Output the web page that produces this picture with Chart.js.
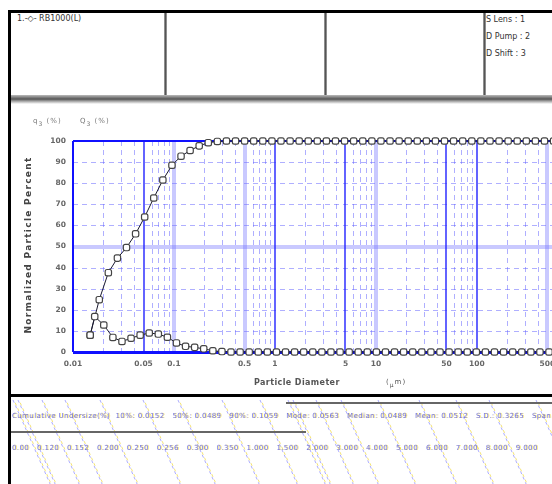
<!DOCTYPE html>
<html>
<head>
<meta charset="utf-8">
<script src="https://cdn.jsdelivr.net/npm/chart.js@4"></script>
<style>
  html, body { margin: 0; padding: 0; background: #fff; }
  body { width: 552px; height: 484px; overflow: hidden; position: relative; font-family: "DejaVu Sans", sans-serif; }
  .r { position: absolute; }
  .t { position: absolute; white-space: nowrap; }
  #plot { position: absolute; left: 10px; top: 100px; width: 573px; height: 293px; }
  #diag { position: absolute; left: 0; top: 398px; }
  .sub { position: relative; top: 3px; font-size: 6px; }
  .row { white-space: pre; color: rgb(112,112,228); font-size: 7px; letter-spacing: 0.4px; text-shadow: 1px 0 rgba(235,210,0,0.55); }
</style>
</head>
<body>
<div id="plot"><canvas id="chart"></canvas></div>
<canvas id="diag" width="552" height="86"></canvas>

<!-- frame and panel rules -->
<div class="r" style="left:8px;top:10px;width:560px;height:3px;background:#000"></div>
<div class="r" style="left:8px;top:10px;width:3px;height:480px;background:#000"></div>
<div class="r" style="left:164px;top:13px;width:3px;height:83px;background:linear-gradient(to right,#aaa,#555,#aaa)"></div>
<div class="r" style="left:324px;top:13px;width:3px;height:83px;background:linear-gradient(to right,#aaa,#555,#aaa)"></div>
<div class="r" style="left:483px;top:13px;width:3px;height:83px;background:linear-gradient(to right,#aaa,#555,#aaa)"></div>
<div class="r" style="left:11px;top:95px;width:560px;height:9px;background:linear-gradient(#bbb,#555 45%,#999 65%,#fff)"></div>
<div class="r" style="left:8px;top:394px;width:560px;height:3px;background:#000"></div>
<div class="r" style="left:286px;top:402px;width:280px;height:2px;background:#666"></div>
<div class="r" style="left:11px;top:431px;width:295px;height:2px;background:#666"></div>

<!-- header cells -->
<div class="t" style="left:17px;top:14px;font-size:8px;color:#333">1.-◇- RB1000(L)</div>
<div class="t" style="left:486px;top:15px;font-size:8px;color:#333">S Lens : 1</div>
<div class="t" style="left:486px;top:32px;font-size:8px;color:#333">D Pump : 2</div>
<div class="t" style="left:486px;top:49px;font-size:8px;color:#333">D Shift : 3</div>

<!-- axis captions -->
<div class="t" style="left:33px;top:117px;font-size:7px;color:#777;letter-spacing:1px">q<span class="sub">3</span> (%)</div>
<div class="t" style="left:80px;top:117px;font-size:7px;color:#777;letter-spacing:1px">Q<span class="sub">3</span> (%)</div>
<div class="t" style="left:28px;top:245px;font-size:9px;font-weight:bold;color:#444;letter-spacing:1.3px;transform:translate(-50%,-50%) rotate(-90deg)">Normalized Particle Percent</div>
<div class="t" style="left:254px;top:378px;font-size:8px;font-weight:bold;color:#555;letter-spacing:0.4px">Particle Diameter</div>
<div class="t" style="left:386px;top:378px;font-size:7px;color:#555;letter-spacing:1px">(<span class="sub">μ</span>m)</div>

<!-- result rows -->
<div class="t row" style="left:12px;top:412px">Cumulative Undersize(%)  10%: 0.0152   50%: 0.0489   90%: 0.1059   Mode: 0.0563   Median: 0.0489   Mean: 0.0512   S.D.: 0.3265   Span: 1.857</div>
<div class="t row" style="left:12px;top:444px">0.00   0.120   0.152   0.200   0.250   0.256   0.300   0.350   1.000   1.500   2.000   3.000   4.000   5.000   6.000   7.000   8.000   9.000</div>

<script>
// Particle size distribution: diameters in micrometres
const diameters = [0.01479, 0.01820, 0.02239, 0.02754, 0.03388, 0.04169, 0.05129, 0.06310, 0.07762, 0.09550,
  0.1175, 0.1445, 0.1778, 0.2188, 0.2692, 0.3311, 0.4074, 0.5012, 0.6166, 0.7586, 0.9333,
  1.148, 1.413, 1.738, 2.138, 2.630, 3.236, 3.981, 4.898, 6.026, 7.413, 9.120,
  11.22, 13.80, 16.98, 20.89, 25.70, 31.62, 38.90, 47.86, 58.88, 72.44, 89.13,
  109.6, 134.9, 166.0, 204.2, 251.2, 309.0, 380.2, 467.7, 575.4, 707.9];
// Cumulative undersize Q3 (%)
const cumulative = [8.0, 24.8, 37.6, 44.5, 49.5, 56.0, 64.0, 73.0, 81.5, 88.5,
  92.8, 95.5, 97.7, 99.2, 99.8, 100, 100, 100, 100, 100, 100,
  100, 100, 100, 100, 100, 100, 100, 100, 100, 100, 100,
  100, 100, 100, 100, 100, 100, 100, 100, 100, 100, 100,
  100, 100, 100, 100, 100, 100, 100, 100, 100, 100];
// Frequency q3 (%) at class centres
const freqDiameters = [0.01479, 0.01641, 0.02018, 0.02483, 0.03055, 0.03758, 0.04624, 0.05689, 0.06998, 0.08610,
  0.1059, 0.1303, 0.1603, 0.1972, 0.2427, 0.2985, 0.3673, 0.4519, 0.5559, 0.6839, 0.8414,
  1.035, 1.274, 1.567, 1.928, 2.371, 2.917, 3.589, 4.416, 5.433, 6.683, 8.222,
  10.12, 12.45, 15.31, 18.84, 23.17, 28.51, 35.08, 43.15, 53.09, 65.31, 80.35,
  98.86, 121.6, 149.6, 184.1, 226.5, 278.6, 342.8, 421.7, 518.8, 638.3];
const frequency = [8.0, 16.8, 12.8, 6.9, 5.0, 6.5, 8.0, 9.0, 8.5, 7.0,
  4.3, 2.7, 2.2, 1.5, 0.6, 0.2, 0, 0, 0, 0, 0,
  0, 0, 0, 0, 0, 0, 0, 0, 0, 0, 0,
  0, 0, 0, 0, 0, 0, 0, 0, 0, 0, 0,
  0, 0, 0, 0, 0, 0, 0, 0, 0, 0];

const xTickValues = [0.01, 0.05, 0.1, 0.5, 1, 5, 10, 50, 100, 500];
const xTickLabels = ['0.01', '0.05', '0.1', '0.5', '1', '5', '10', '50', '100', '500'];
const yTickValues = [0, 10, 20, 30, 40, 50, 60, 70, 80, 90, 100];

// grid line groups on the log axis
const xSolidLines = [0.05, 1, 5, 50, 100];
const xBandLines = [0.1, 0.5, 10, 500];
const yDashedLines = [10, 20, 30, 40, 60, 70, 80, 90];
const yBandLines = [50];

const toPoints = (xs, ys) => xs.map((x, i) => ({ x, y: ys[i] }));

const paperGrid = {
  id: 'paperGrid',
  beforeDatasetsDraw(chart) {
    const { ctx, chartArea: a, scales } = chart;
    const xs = scales.x, ys = scales.y;
    const snap = (p, w) => (Math.round(w) % 2 === 1 ? Math.round(p) + 0.5 : Math.round(p));
    const vline = (v, color, w, dash) => {
      const px = snap(xs.getPixelForValue(v), w);
      if (px < a.left - 1 || px > a.right + 1) return;
      ctx.beginPath(); ctx.setLineDash(dash); ctx.strokeStyle = color; ctx.lineWidth = w;
      ctx.moveTo(px, a.top); ctx.lineTo(px, a.bottom); ctx.stroke();
    };
    const hline = (v, color, w, dash) => {
      const py = snap(ys.getPixelForValue(v), w);
      ctx.beginPath(); ctx.setLineDash(dash); ctx.strokeStyle = color; ctx.lineWidth = w;
      ctx.moveTo(a.left, py); ctx.lineTo(a.right, py); ctx.stroke();
    };
    ctx.save();
    const minor = 'rgba(95,95,255,0.5)';
    for (let e = -2; e < 3; e++) {
      for (const m of [2, 3, 4, 6, 7, 8, 9]) vline(m * Math.pow(10, e), minor, 1, [5, 4]);
    }
    yDashedLines.forEach(v => hline(v, minor, 1, [5, 4]));
    const band = 'rgba(120,120,255,0.4)';
    xBandLines.forEach(v => vline(v, band, 4, []));
    yBandLines.forEach(v => hline(v, band, 4, []));
    xSolidLines.forEach(v => vline(v, 'rgba(40,40,255,0.9)', 1.6, []));
    hline(100, '#1010ff', 2, []);
    hline(0, '#1010ff', 3, []);
    vline(0.01, '#1010ff', 2, []);
    ctx.restore();
  }
};

const markerStyle = {
  showLine: true,
  borderColor: '#1a1a30',
  borderWidth: 1,
  pointStyle: 'rectRounded',
  pointRadius: 3.7,
  pointBorderWidth: 1.2,
  pointBorderColor: '#444',
  pointBackgroundColor: '#fff',
  clip: false
};

new Chart(document.getElementById('chart'), {
  type: 'scatter',
  data: {
    datasets: [
      Object.assign({ label: 'q3', data: toPoints(freqDiameters, frequency) }, markerStyle),
      Object.assign({ label: 'Q3', data: toPoints(diameters, cumulative) }, markerStyle)
    ]
  },
  options: {
    responsive: true,
    maintainAspectRatio: false,
    devicePixelRatio: 1,
    animation: false,
    events: [],
    layout: { padding: { top: 41, left: 0, right: 0, bottom: 0 } },
    plugins: { legend: { display: false }, tooltip: { enabled: false }, title: { display: false } },
    scales: {
      x: {
        type: 'logarithmic',
        min: 0.01,
        max: 1000,
        afterBuildTicks: s => { s.ticks = xTickValues.map(v => ({ value: v })); },
        afterFit: s => { s.height = 41; },
        grid: { display: false, drawTicks: false },
        border: { display: false },
        ticks: {
          autoSkip: false, maxRotation: 0, padding: 8,
          color: '#666', font: { family: 'DejaVu Sans', size: 7.5, weight: 'bold' },
          callback: (v, i) => xTickLabels[i]
        }
      },
      y: {
        min: 0,
        max: 100,
        afterBuildTicks: s => { s.ticks = yTickValues.map(v => ({ value: v })); },
        afterFit: s => { s.width = 63; },
        grid: { display: false, drawTicks: false },
        border: { display: false },
        ticks: {
          padding: 7,
          color: '#666', font: { family: 'DejaVu Sans', size: 7.5, weight: 'bold' },
          callback: v => String(v)
        }
      }
    }
  },
  plugins: [paperGrid]
});

// print-screen hatching across the results panel
const dctx = document.getElementById('diag').getContext('2d');
const hatchStarts = [13, 18, 42, 65, 100, 143, 178, 222, 260, 288, 293, 316, 341, 378, 419, 456, 489, 536];
dctx.lineWidth = 1;
dctx.setLineDash([3, 3]);
hatchStarts.forEach(x0 => {
  dctx.strokeStyle = 'rgba(90,90,255,0.5)';
  dctx.lineDashOffset = 0;
  dctx.beginPath(); dctx.moveTo(x0, 2); dctx.lineTo(x0 + 38, 88); dctx.stroke();
  dctx.strokeStyle = 'rgba(235,205,0,0.55)';
  dctx.lineDashOffset = 3;
  dctx.beginPath(); dctx.moveTo(x0 + 1, 2); dctx.lineTo(x0 + 39, 88); dctx.stroke();
});
</script>
</body>
</html>
